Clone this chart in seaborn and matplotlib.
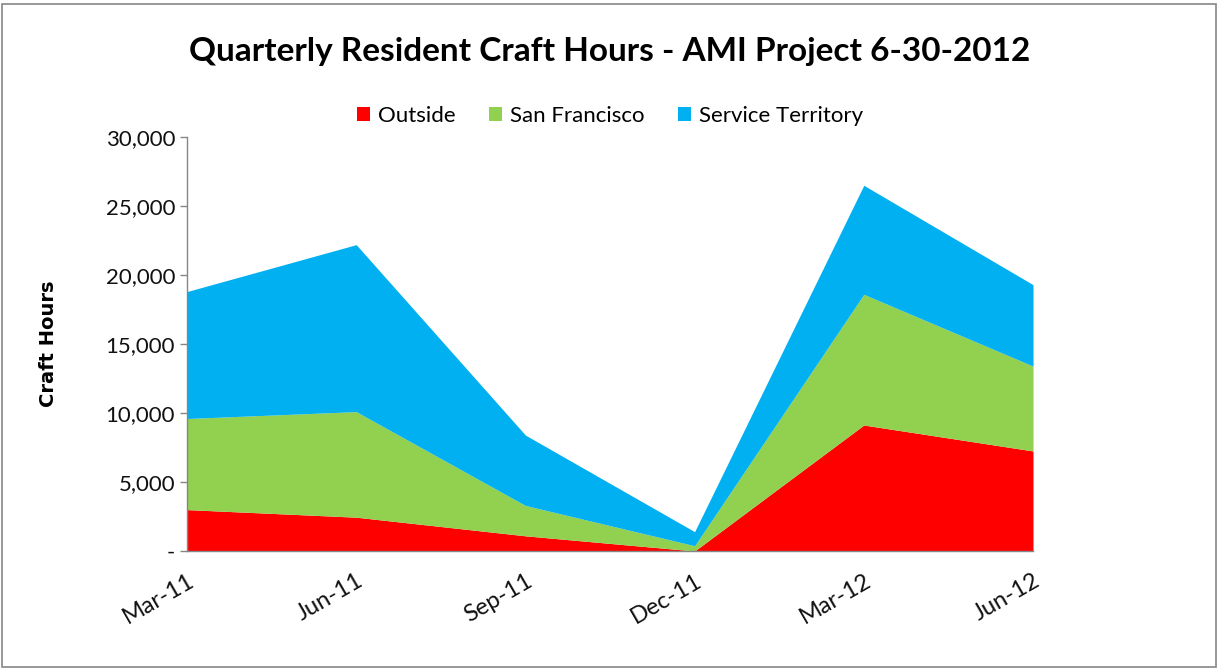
import numpy as np
import pandas as pd
import seaborn as sns
import matplotlib
matplotlib.use("Agg")
import matplotlib.pyplot as plt
from matplotlib.patches import Patch, Rectangle
from matplotlib.ticker import FuncFormatter

categories = ["Mar-11", "Jun-11", "Sep-11", "Dec-11", "Mar-12", "Jun-12"]
outside = [3000, 2450, 1100, 0, 9130, 7250]
san_francisco = [6600, 7650, 2200, 380, 9470, 6150]
service_territory = [9200, 12100, 5100, 1020, 7900, 5900]

series_names = ["Outside", "San Francisco", "Service Territory"]
colors = ["#FF0000", "#92D050", "#00B0F0"]

sns.set_theme(style="white")
plt.rcParams['font.family'] = ['Lato', 'DejaVu Sans']
plt.rcParams['text.color'] = 'black'

fig = plt.figure(figsize=(12.2, 6.69), dpi=100)
ax = fig.add_axes([187/1220, 1-551/669, (1033-187)/1220, (551-137)/669])

x = np.arange(len(categories))
data = [outside, san_francisco, service_territory]
base = np.zeros(len(categories))
for vals, c, name in zip(data, colors, series_names):
    top = base + np.array(vals, dtype=float)
    ax.fill_between(x, base, top, color=c, linewidth=0, label=name)
    base = top

ax.set_xlim(0, len(categories) - 1)
ax.set_ylim(0, 30000)
ax.set_yticks(np.arange(0, 30001, 5000))
ax.yaxis.set_major_formatter(FuncFormatter(lambda v, p: "-" if v == 0 else f"{int(v):,}"))
ax.set_xticks(x)
ax.set_xticklabels(categories, rotation=30, ha="right", rotation_mode="anchor", fontsize=17)
ax.tick_params(axis="y", labelsize=16, length=5, width=1, color="#868686", direction="out", left=True,
               labelcolor="#111111")
ax.tick_params(axis="x", length=0, pad=14, labelcolor="#111111")
for s in ["top", "right"]:
    ax.spines[s].set_visible(False)
for s in ["left", "bottom"]:
    ax.spines[s].set_color("#868686")
    ax.spines[s].set_linewidth(1)

ax.set_ylabel("Craft Hours", fontsize=14, fontweight="bold", family=["DejaVu Sans"], labelpad=34,
              color="black")

fig.text(0.5, 1 - 52/669, "Quarterly Resident Craft Hours - AMI Project 6-30-2012",
         ha="center", va="center", fontsize=24, fontweight="bold", color="black")

handles = [Patch(facecolor=c, edgecolor="none") for c in colors]
fig.legend(handles, series_names, loc="center", bbox_to_anchor=(0.5, 1 - 116/669),
           ncol=3, frameon=False, fontsize=16, handlelength=0.6, handleheight=0.6,
           handletextpad=0.35, columnspacing=1.5)

fig.patches.append(Rectangle((2/1220, 2/669), 1 - 6/1220, 1 - 6/669, transform=fig.transFigure,
                             fill=False, edgecolor="#868686", linewidth=1.2))

fig.savefig("out.png", dpi=100)
